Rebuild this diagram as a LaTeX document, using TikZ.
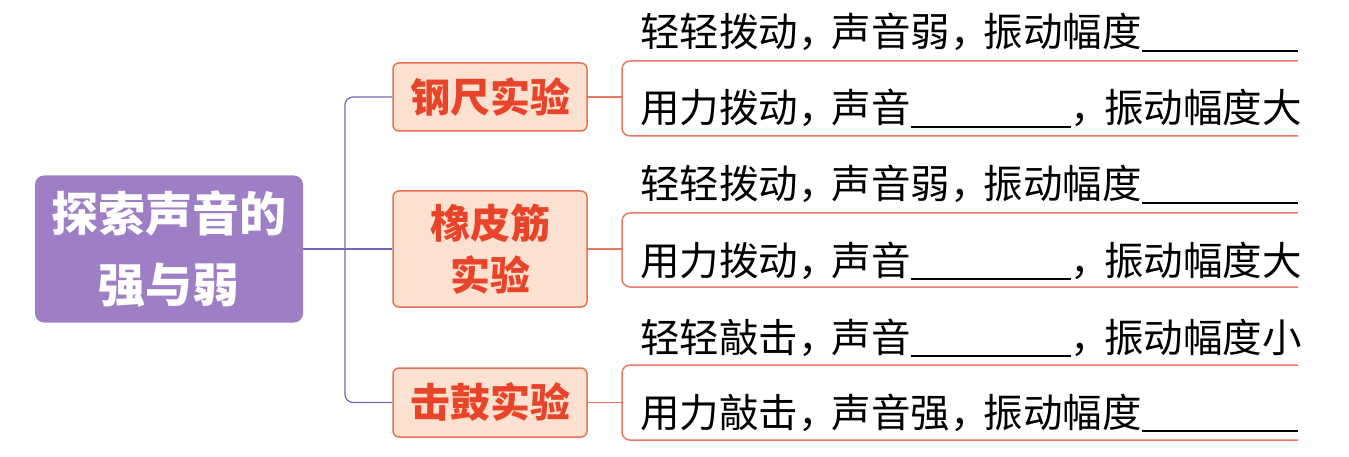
\documentclass[tikz,border=0pt]{standalone}
\usepackage{fontspec}
\newfontfamily\cjk{Noto Sans CJK SC}
\definecolor{pfill}{RGB}{158,127,198}
\definecolor{pline}{RGB}{120,100,185}
\definecolor{ofill}{RGB}{252,224,208}
\definecolor{odraw}{RGB}{233,112,85}
\definecolor{otext}{RGB}{232,68,42}
\definecolor{rline}{RGB}{235,120,100}
\newcommand\fc{，\hspace{-0.15em}}
\newcommand\blank[1]{\rule[-4.7pt]{#1}{1.4pt}}
\newcommand\fillblank{\leaders\hrule height -3.3pt depth 4.7pt\hfill}
\tikzset{
  mainbox/.style={rectangle, rounded corners=9pt, fill=pfill, text=white,
    minimum width=268pt, minimum height=147pt, inner sep=0pt, align=center,
    font=\cjk\bfseries\fontsize{47pt}{71pt}\selectfont},
  expbox/.style={rectangle, rounded corners=6pt, fill=ofill, draw=odraw, line width=1.5pt,
    text=otext, minimum width=194pt, inner sep=0pt, align=center,
    font=\cjk\bfseries\fontsize{40pt}{52pt}\selectfont},
  txt/.style={anchor=base west, inner sep=0pt, text=black,
    font=\cjk\fontsize{39.5pt}{40pt}\selectfont},
  purpleline/.style={draw=pline, line width=1.2pt},
  redline/.style={draw=rline, line width=1.5pt},
}
\begin{document}
\begin{tikzpicture}[x=1pt,y=-1pt]
\useasboundingbox (0,0) rectangle (1349,457);
\fill[white] (0,0) rectangle (1349,457);

\node[mainbox] (main) at (169,249) {探索声音的\\强与弱};
\node[expbox, minimum height=68pt] (b1) at (490,97) {钢尺实验};
\node[expbox, minimum height=116pt] (b2) at (490,249) {橡皮筋\\实验};
\node[expbox, minimum height=69pt] (b3) at (490,402.5) {击鼓实验};

\coordinate (j) at (345,249);
\draw[purpleline] (main.east) -- (b2.west);
\draw[purpleline, rounded corners=8pt] (b1.west) -- (b1.west -| j) -- (b3.west -| j) -- (b3.west);

% brackets
\coordinate (kx) at (622,0);
\coordinate (t1) at (1298,61);  \coordinate (u1) at (1298,136);
\coordinate (t2) at (1298,213); \coordinate (u2) at (1298,287);
\coordinate (t3) at (1298,365); \coordinate (u3) at (1298,440);
\draw[redline] (b1.east) -- (b1.east -| kx);
\draw[redline] (b2.east) -- (b2.east -| kx);
\draw[redline] (b3.east) -- (b3.east -| kx);
\draw[redline, rounded corners=8pt] (t1) -- (t1 -| kx) -- (u1 -| kx) -- (u1);
\draw[redline, rounded corners=8pt] (t2) -- (t2 -| kx) -- (u2 -| kx) -- (u2);
\draw[redline, rounded corners=8pt] (t3) -- (t3 -| kx) -- (u3 -| kx) -- (u3);

% texts
\node[txt] (s11) at (640,47) {\hbox to 658pt{轻轻拨动\fc 声音弱\fc 振动幅度\fillblank}};
\node[txt] (s12) at (640,123) {用力拨动\fc 声音\blank{160pt}\fc 振动幅度大};
\node[txt] (s21) at (640,199) {\hbox to 658pt{轻轻拨动\fc 声音弱\fc 振动幅度\fillblank}};
\node[txt] (s22) at (640,275) {用力拨动\fc 声音\blank{160pt}\fc 振动幅度大};
\node[txt] (s31) at (640,352) {轻轻敲击\fc 声音\blank{160pt}\fc 振动幅度小};
\node[txt] (s32) at (640,427) {\hbox to 658pt{用力敲击\fc 声音强\fc 振动幅度\fillblank}};
\end{tikzpicture}
\end{document}
